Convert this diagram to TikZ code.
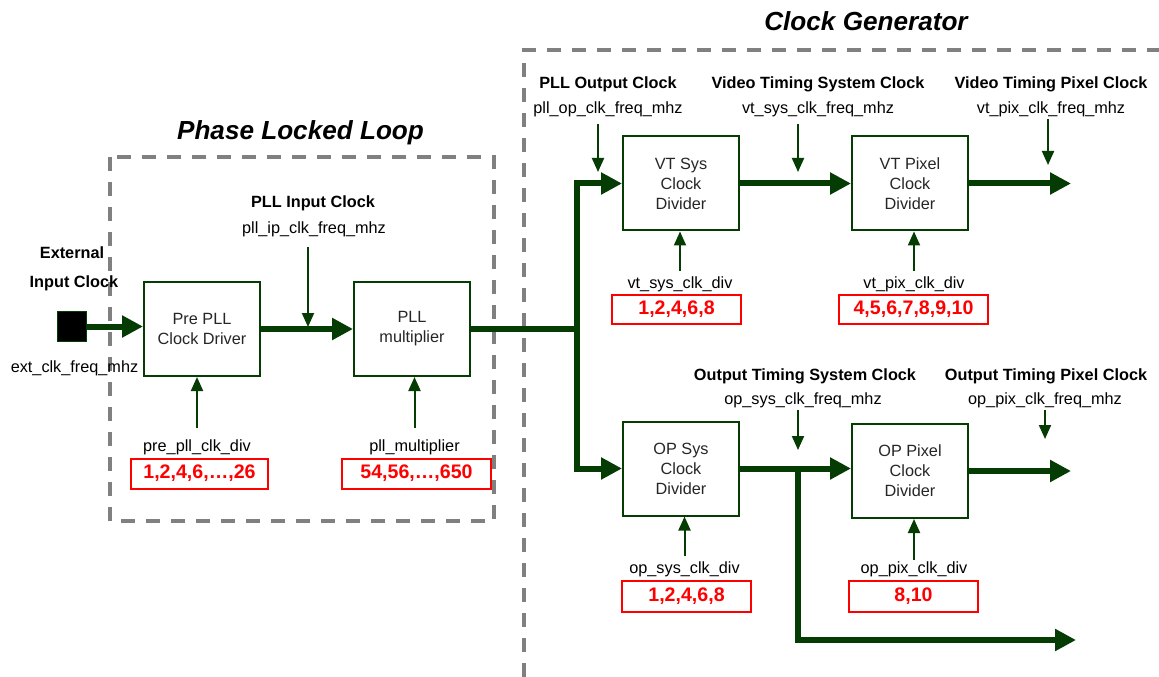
\documentclass[tikz,border=0pt]{standalone}
\usepackage{fontspec}
\setmainfont{Liberation Sans}
\usetikzlibrary{arrows.meta}
\definecolor{dkgreen}{RGB}{4,60,4}
\definecolor{framegray}{RGB}{128,128,128}
\definecolor{valred}{RGB}{255,0,0}
\begin{document}
\begin{tikzpicture}[x=0.75pt,y=-0.75pt,
  lbl/.style={font=\fontsize{12.2}{15}\selectfont, inner sep=0pt, anchor=base},
  hdr/.style={lbl, font=\fontsize{12.2}{15}\selectfont\bfseries},
  title/.style={font=\fontsize{19.6}{22}\selectfont\bfseries\itshape, inner sep=0pt, anchor=base},
  blk/.style={draw=dkgreen, line width=1.5pt, fill=white, minimum width=87pt, minimum height=70.5pt,
    inner sep=0pt, align=center, font=\fontsize{12.2}{15}\selectfont, text=black!85},
  val/.style={draw=valred, line width=2.2pt, text=valred, font=\fontsize{14.7}{16}\selectfont\bfseries,
    minimum height=22.5pt, inner sep=0pt, text height=0.72em, text depth=0pt},
  bus/.style={draw=dkgreen, line width=4.5pt},
  busarr/.style={bus, -{Triangle[length=15.75pt,width=15.75pt]}},
  thinarr/.style={draw=dkgreen, line width=1.5pt, -{Triangle[length=10.5pt,width=9pt]}},
  frame/.style={draw=framegray, line width=2.6pt, dash pattern=on 10.5pt off 8.25pt}]

\useasboundingbox (0,0) rectangle (1159,677);
\fill[white] (0,0) rectangle (1159,677);

% dashed group outlines
\draw[frame] (110,157) rectangle (494,521);
\draw[frame] (524,677) -- (524,50) -- (1159,50);

% titles
\node[title] (tpll) at (300.5,140) {Phase Locked Loop};
\node[title] (tcg) at (866,30.5) {Clock Generator};

% external clock input
\node[draw=dkgreen, fill=black, line width=1pt, minimum width=22pt, minimum height=22.5pt, inner sep=0pt] (ext) at (72,326.5) {};
\node[hdr] (ext1) at (72,258) {External};
\node[hdr] (ext2) at (74,287) {Input Clock};
\node[lbl] (extf) at (74.5,372.5) {ext\_clk\_freq\_mhz};

% functional blocks
\node[blk] (pre) at (202,329) {Pre PLL\\Clock Driver};
\node[blk] (pll) at (412,329) {PLL\\multiplier};
\node[blk] (vts) at (681,183.5) {VT Sys\\Clock\\Divider};
\node[blk] (vtp) at (910,183.5) {VT Pixel\\Clock\\Divider};
\node[blk] (ops) at (681,468.5) {OP Sys\\Clock\\Divider};
\node[blk] (opp) at (910,471) {OP Pixel\\Clock\\Divider};

% allowed register values
\node[val, minimum width=102.75pt] (prev) at (199.5,474) {1,2,4,6,…,26};
\node[val, minimum width=111.75pt] (pllv) at (416.5,474) {54,56,…,650};
\node[val, minimum width=96.75pt, minimum height=21.75pt] (vtsv) at (676.5,309.5) {1,2,4,6,8};
\node[val, minimum width=111.75pt, minimum height=21.75pt] (vtpv) at (913.5,309.5) {4,5,6,7,8,9,10};
\node[val, minimum width=96.75pt, minimum height=23.25pt] (opsv) at (686.5,596.5) {1,2,4,6,8};
\node[val, minimum width=96.75pt, minimum height=23.25pt] (oppv) at (913.5,596.5) {8,10};

% register names
\node[lbl] (prel) at (197,451) {pre\_pll\_clk\_div};
\node[lbl] (pllml) at (414.5,451) {pll\_multiplier};
\node[lbl] (vtsl) at (680,288.5) {vt\_sys\_clk\_div};
\node[lbl] (vtpl) at (914,288.5) {vt\_pix\_clk\_div};
\node[lbl] (opsl) at (684.5,573.5) {op\_sys\_clk\_div};
\node[lbl] (oppl) at (914,573) {op\_pix\_clk\_div};

\draw[thinarr] (prel.north) ++(0,-11) -- (prel.north |- pre.south);
\draw[thinarr] (pllml.north) ++(0,-11) -- (pllml.north |- pll.south);
\draw[thinarr] (vtsl.north) ++(0,-5.6) -- (vtsl.north |- vts.south);
\draw[thinarr] (vtpl.north) ++(0,-5.6) -- (vtpl.north |- vtp.south);
\draw[thinarr] (opsl.north) ++(0,-5.6) -- (opsl.north |- ops.south);
\draw[thinarr] (oppl.north) ++(0,-1) -- (oppl.north |- opp.south);

% clock names and frequency variables
\node[hdr] (ipc) at (313,208) {PLL Input Clock};
\node[lbl] (ipf) at (314,233.5) {pll\_ip\_clk\_freq\_mhz};
\node[hdr] (opc) at (608,89) {PLL Output Clock};
\node[lbl] (opf) at (608,113.5) {pll\_op\_clk\_freq\_mhz};
\node[hdr] (vsc) at (818,89) {Video Timing System Clock};
\node[lbl] (vsf) at (818,113.5) {vt\_sys\_clk\_freq\_mhz};
\node[hdr] (vpc) at (1051,89) {Video Timing Pixel Clock};
\node[lbl] (vpf) at (1051,113.5) {vt\_pix\_clk\_freq\_mhz};
\node[hdr] (osc) at (805,380) {Output Timing System Clock};
\node[lbl] (osf) at (803,404.5) {op\_sys\_clk\_freq\_mhz};
\node[hdr] (oxc) at (1046,380) {Output Timing Pixel Clock};
\node[lbl] (oxf) at (1045,404.5) {op\_pix\_clk\_freq\_mhz};

\coordinate (ipS) at (308,247);  \coordinate (ipE) at (308,327);
\coordinate (opS) at (598,124);  \coordinate (opE) at (598,172);
\coordinate (vsS) at (798,124);  \coordinate (vsE) at (798,172);
\coordinate (vpS) at (1048,119); \coordinate (vpE) at (1048,165);
\coordinate (osS) at (798,410);  \coordinate (osE) at (798,450);
\coordinate (oxS) at (1045,410); \coordinate (oxE) at (1045,439);
\draw[thinarr] (ipS) -- (ipE);
\draw[thinarr] (opS) -- (opE);
\draw[thinarr] (vsS) -- (vsE);
\draw[thinarr] (vpS) -- (vpE);
\draw[thinarr] (osS) -- (osE);
\draw[thinarr] (oxS) -- (oxE);

% clock path
\coordinate (split) at (577,329);
\coordinate (tap) at (798,468.5);
\coordinate (vtout) at (1071,183.5);
\coordinate (opout) at (1071,473);
\coordinate (opout2) at (1076,640);

\draw[busarr] (ext.east) -- (ext.east -| pre.west);
\draw[busarr] (pre.east) -- (pll.west);
\draw[bus] (pll.east) -- (split);
\draw[busarr] (split) |- (vts.west);
\draw[busarr] (split) |- (ops.west);
\draw[busarr] (vts.east) -- (vtp.west);
\draw[busarr] (vtp.east) -- (vtout);
\draw[busarr] (ops.east) -- (ops.east -| opp.west);
\draw[busarr] (opp.east) -- (opp.east -| opout);
\draw[busarr] (tap) |- (opout2);
\end{tikzpicture}
\end{document}
